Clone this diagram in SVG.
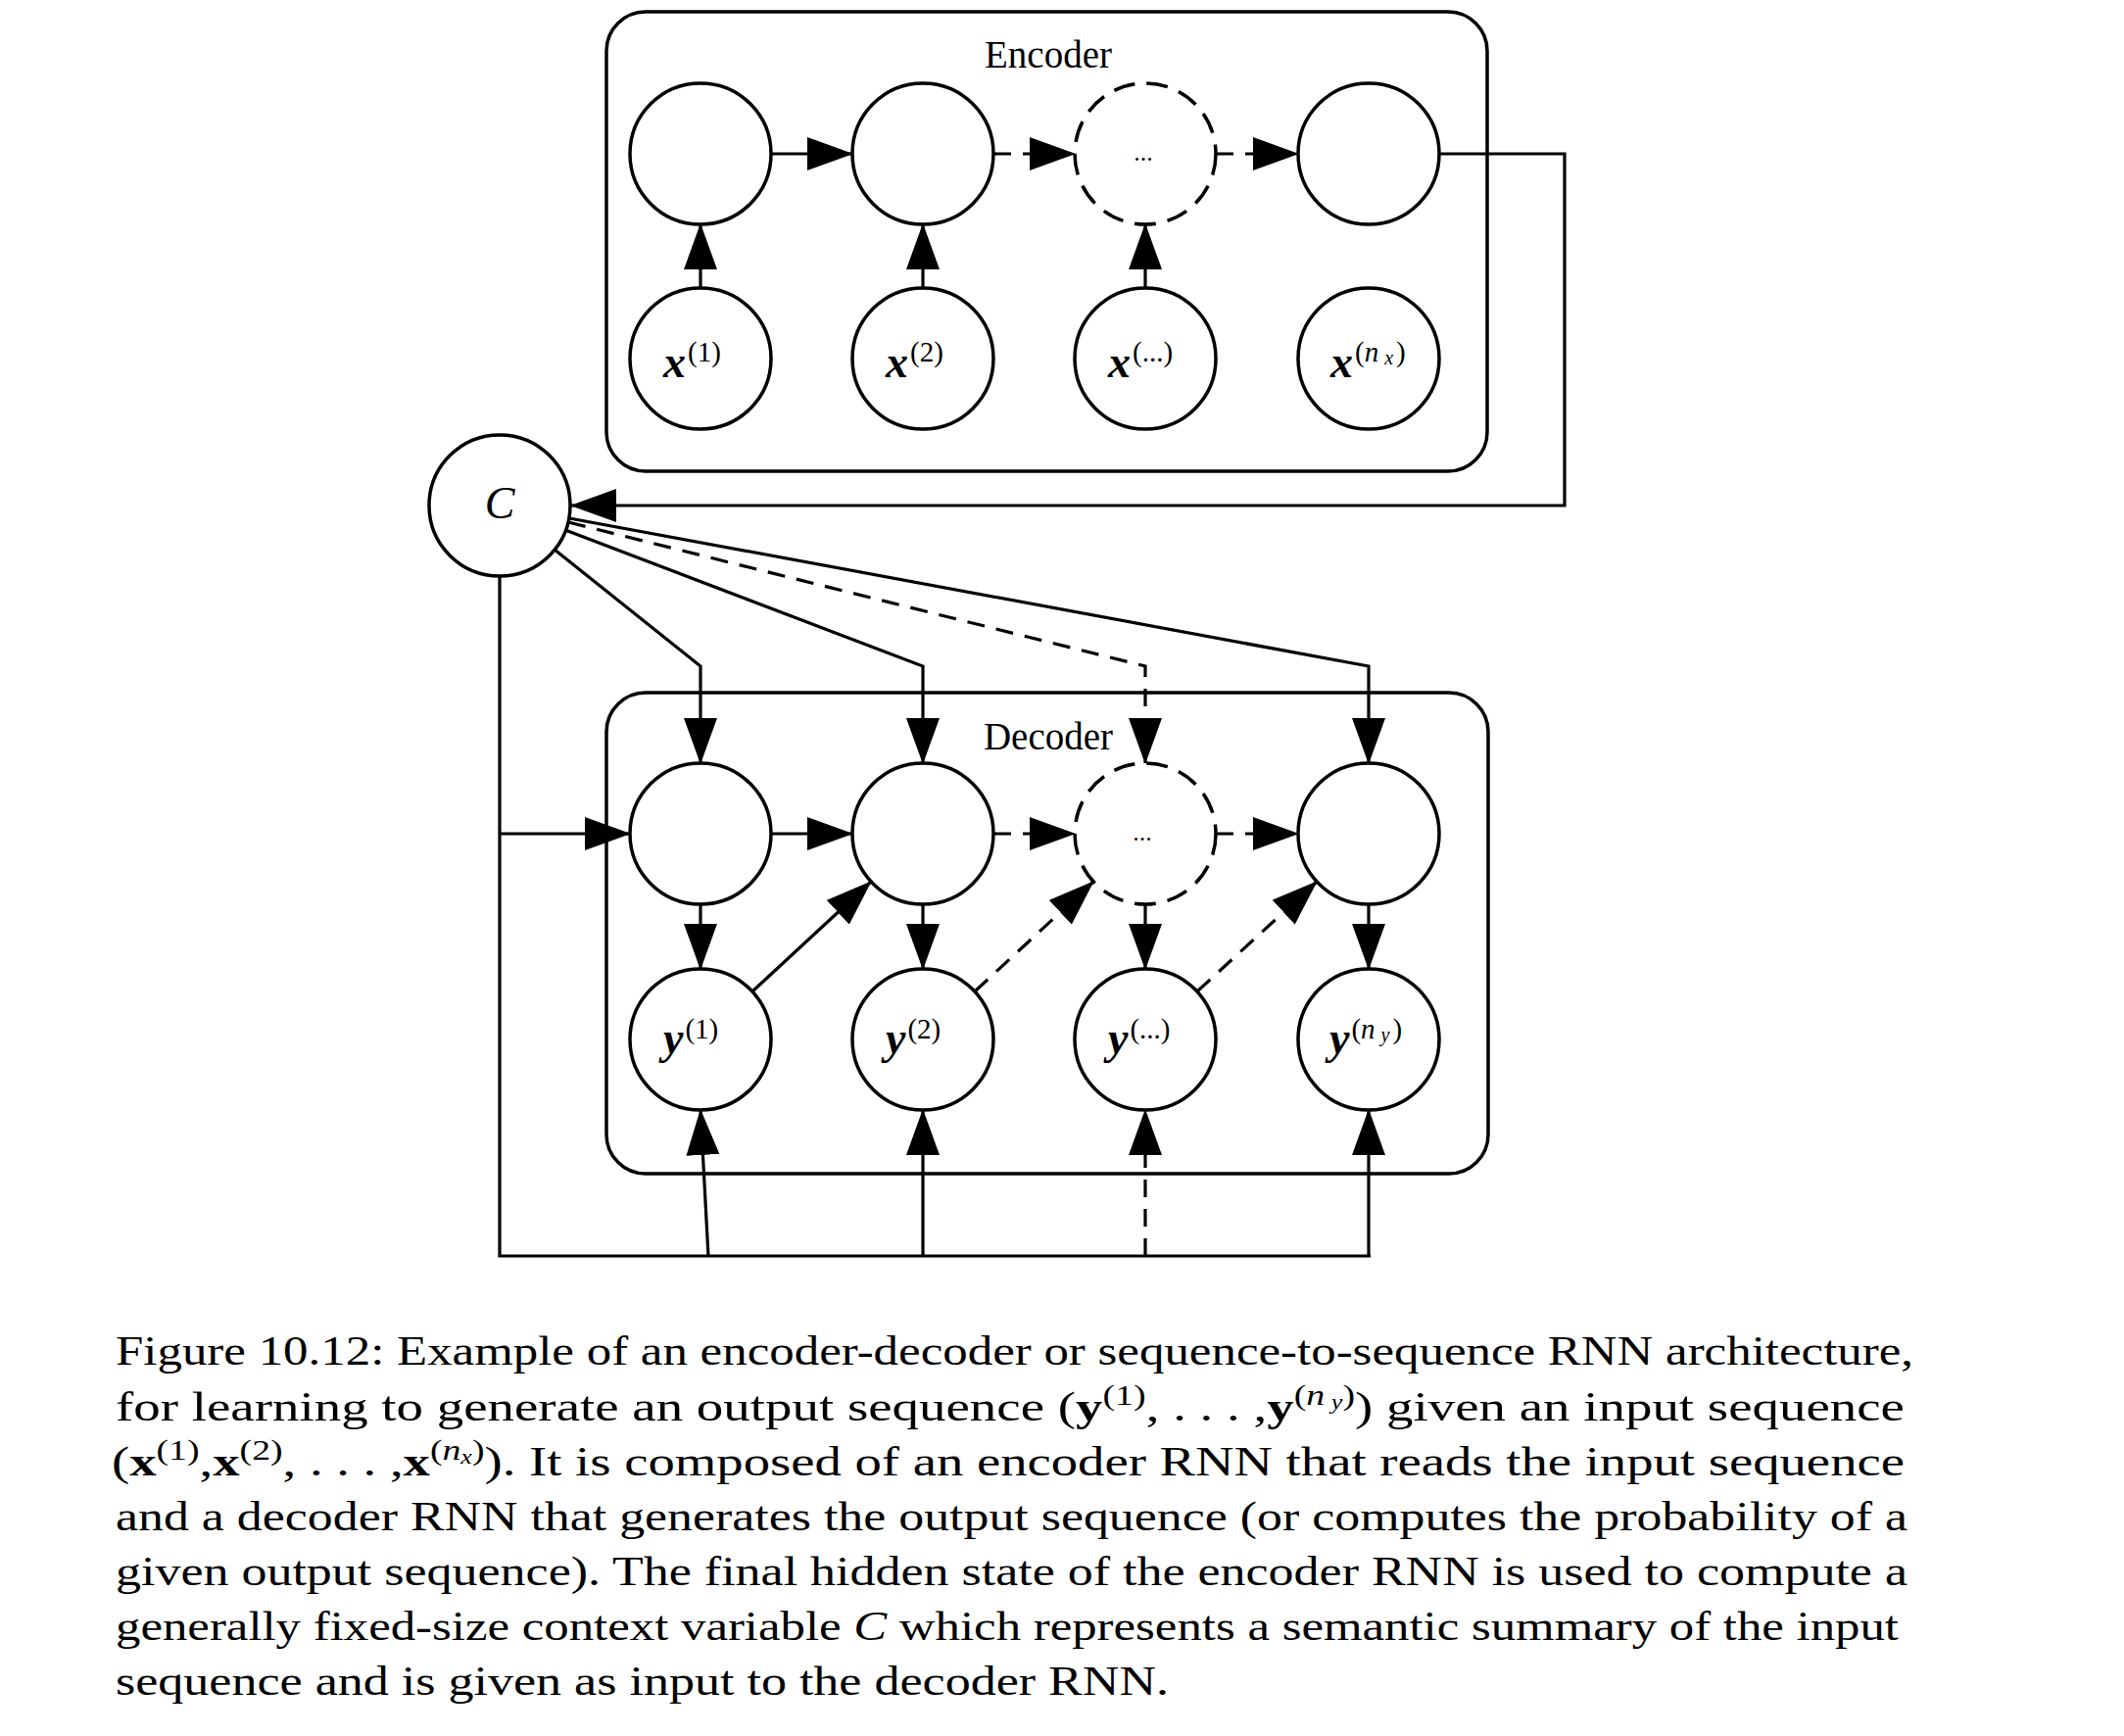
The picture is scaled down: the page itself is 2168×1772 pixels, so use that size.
<svg xmlns="http://www.w3.org/2000/svg" width="2168" height="1772" viewBox="0 0 2168 1772">
<defs>
<marker id="ah" markerUnits="userSpaceOnUse" viewBox="0 0 47 34" markerWidth="47" markerHeight="34" refX="46" refY="17" orient="auto">
<path d="M0,0 L47,17 L0,34 z" fill="#000"/>
</marker>
<style>
.box{fill:none;stroke:#000;stroke-width:3.5}
.node{fill:#fff;stroke:#000;stroke-width:3.5}
.dnode{fill:#fff;stroke:#000;stroke-width:3.5;stroke-dasharray:22 12}
.ln{fill:none;stroke:#000;stroke-width:3.2;stroke-linejoin:miter}
.arr{fill:none;stroke:#000;stroke-width:3.2;marker-end:url(#ah)}
.dash{stroke-dasharray:18 12}
.title{font-family:"Liberation Serif",serif;font-size:39px;fill:#000}
.lbl{font-family:"Liberation Serif",serif;font-size:46px;fill:#000}
.bv{font-weight:bold;font-style:italic}
.sup{font-size:29px;font-weight:normal;font-style:normal}
.sub{font-size:20px;font-style:italic}
.it{font-style:italic}
.ell{font-family:"Liberation Serif",serif;font-size:26px;fill:#000}
.cap{font-family:"Liberation Serif",serif;font-size:42px;fill:#000}
.csup{font-size:29px}
.csub{font-size:20px;font-style:italic}
</style>
</defs>
<rect x="0" y="0" width="2168" height="1772" fill="#fff"/>

<g id="encoder-box">
<rect class="box" x="619" y="12" width="899" height="469" rx="40" ry="40"/>
<text class="title" x="1070" y="69" text-anchor="middle">Encoder</text>
</g>
<g id="decoder-box">
<rect class="box" x="619" y="707" width="900" height="491" rx="40" ry="40"/>
<text class="title" x="1070" y="765" text-anchor="middle">Decoder</text>
</g>

<g id="connectors">
<path class="arr" d="M787 157 L870 157"/>
<path class="arr dash" d="M1014 157 L1097 157"/>
<path class="arr dash" d="M1241 157 L1325 157"/>
<path class="arr" d="M715 294 L715 229"/>
<path class="arr" d="M942 294 L942 229"/>
<path class="arr" d="M1169 294 L1169 229"/>
<path class="arr" d="M1469 157 L1597 157 L1597 516 L583 516"/>
<path class="arr" d="M566 561 L715 680 L715 779"/>
<path class="arr" d="M577 541 L942 680 L942 779"/>
<path class="arr dash" d="M580 533 L1169 680 L1169 779"/>
<path class="arr" d="M581 529 L1397 680 L1397 779"/>
<path class="ln" d="M510 588 L510 1282 L1399 1282"/>
<path class="arr" d="M510 851 L643 851"/>
<path class="arr" d="M787 851 L870 851"/>
<path class="arr dash" d="M1014 851 L1097 851"/>
<path class="arr dash" d="M1241 851 L1325 851"/>
<path class="arr" d="M715 923 L715 989"/>
<path class="arr" d="M942 923 L942 989"/>
<path class="arr" d="M1169 923 L1169 989"/>
<path class="arr" d="M1397 923 L1397 989"/>
<path class="arr" d="M768 1012 L889 900"/>
<path class="arr dash" d="M995 1012 L1116 900"/>
<path class="arr dash" d="M1222 1012 L1344 900"/>
<path class="arr" d="M723 1282 L715 1133"/>
<path class="arr" d="M942 1282 L942 1133"/>
<path class="arr dash" d="M1169 1282 L1169 1133"/>
<path class="arr" d="M1397 1282 L1397 1133"/>
</g>

<g id="enc-h1"><circle class="node" cx="715" cy="157" r="72"/></g>
<g id="enc-h2"><circle class="node" cx="942" cy="157" r="72"/></g>
<g id="enc-h3"><circle class="dnode" cx="1169" cy="157" r="72"/><text class="ell" x="1167" y="164" text-anchor="middle">...</text></g>
<g id="enc-h4"><circle class="node" cx="1397" cy="157" r="72"/></g>

<g id="enc-x1"><circle class="node" cx="715" cy="366" r="72"/><text class="lbl" x="677" y="385"><tspan class="bv">x</tspan><tspan class="sup" dx="2" dy="-16">(1)</tspan></text></g>
<g id="enc-x2"><circle class="node" cx="942" cy="366" r="72"/><text class="lbl" x="904" y="385"><tspan class="bv">x</tspan><tspan class="sup" dx="2" dy="-16">(2)</tspan></text></g>
<g id="enc-x3"><circle class="node" cx="1169" cy="366" r="72"/><text class="lbl" x="1131" y="385"><tspan class="bv">x</tspan><tspan class="sup" dx="2" dy="-16">(...)</tspan></text></g>
<g id="enc-x4"><circle class="node" cx="1397" cy="366" r="72"/><text class="lbl" x="1358" y="385"><tspan class="bv">x</tspan><tspan class="sup" dx="2" dy="-16">(</tspan><tspan class="sup it">n</tspan><tspan class="sub" dx="6" dy="3">x</tspan><tspan class="sup" dx="3" dy="-3">)</tspan></text></g>

<g id="context-C"><circle class="node" cx="510" cy="516" r="72"/><text class="lbl it" x="510" y="529" text-anchor="middle" font-size="40">C</text></g>

<g id="dec-h1"><circle class="node" cx="715" cy="851" r="72"/></g>
<g id="dec-h2"><circle class="node" cx="942" cy="851" r="72"/></g>
<g id="dec-h3"><circle class="dnode" cx="1169" cy="851" r="72"/><text class="ell" x="1166" y="858" text-anchor="middle">...</text></g>
<g id="dec-h4"><circle class="node" cx="1397" cy="851" r="72"/></g>

<g id="dec-y1"><circle class="node" cx="715" cy="1061" r="72"/><text class="lbl" x="677" y="1075"><tspan class="bv">y</tspan><tspan class="sup" dx="2" dy="-15">(1)</tspan></text></g>
<g id="dec-y2"><circle class="node" cx="942" cy="1061" r="72"/><text class="lbl" x="904" y="1075"><tspan class="bv">y</tspan><tspan class="sup" dx="2" dy="-15">(2)</tspan></text></g>
<g id="dec-y3"><circle class="node" cx="1169" cy="1061" r="72"/><text class="lbl" x="1131" y="1075"><tspan class="bv">y</tspan><tspan class="sup" dx="2" dy="-15">(...)</tspan></text></g>
<g id="dec-y4"><circle class="node" cx="1397" cy="1061" r="72"/><text class="lbl" x="1357" y="1075"><tspan class="bv">y</tspan><tspan class="sup" dx="2" dy="-15">(</tspan><tspan class="sup it">n</tspan><tspan class="sub" dx="6" dy="3">y</tspan><tspan class="sup" dx="3" dy="-3">)</tspan></text></g>

<g id="caption">
<text class="cap" x="118" y="1393" textLength="1835" lengthAdjust="spacingAndGlyphs">Figure 10.12: Example of an encoder-decoder or sequence-to-sequence RNN architecture,</text>
<text class="cap" x="118" y="1450" textLength="1826" lengthAdjust="spacingAndGlyphs">for learning to generate an output sequence (<tspan font-weight="bold">y</tspan><tspan class="csup" dy="-16">(1)</tspan><tspan dy="16">, . . . ,</tspan><tspan font-weight="bold">y</tspan><tspan class="csup" dy="-16">(</tspan><tspan class="csup" font-style="italic">n</tspan><tspan class="csub" dy="4"> y</tspan><tspan class="csup" dy="-4">)</tspan><tspan dy="16">) given an input sequence</tspan></text>
<text class="cap" x="114" y="1506" textLength="1830" lengthAdjust="spacingAndGlyphs">(<tspan font-weight="bold">x</tspan><tspan class="csup" dy="-16">(1)</tspan><tspan dy="16">,</tspan><tspan font-weight="bold">x</tspan><tspan class="csup" dy="-16">(2)</tspan><tspan dy="16">, . . . ,</tspan><tspan font-weight="bold">x</tspan><tspan class="csup" dy="-16">(</tspan><tspan class="csup" font-style="italic">n</tspan><tspan class="csub" dy="4">x</tspan><tspan class="csup" dy="-4">)</tspan><tspan dy="16">). It is composed of an encoder RNN that reads the input sequence</tspan></text>
<text class="cap" x="118" y="1562" textLength="1829" lengthAdjust="spacingAndGlyphs">and a decoder RNN that generates the output sequence (or computes the probability of a</text>
<text class="cap" x="118" y="1618" textLength="1829" lengthAdjust="spacingAndGlyphs">given output sequence). The final hidden state of the encoder RNN is used to compute a</text>
<text class="cap" x="118" y="1674" textLength="1820" lengthAdjust="spacingAndGlyphs">generally fixed-size context variable <tspan font-style="italic">C</tspan> which represents a semantic summary of the input</text>
<text class="cap" x="118" y="1730" textLength="1075" lengthAdjust="spacingAndGlyphs">sequence and is given as input to the decoder RNN.</text>
</g>
</svg>
